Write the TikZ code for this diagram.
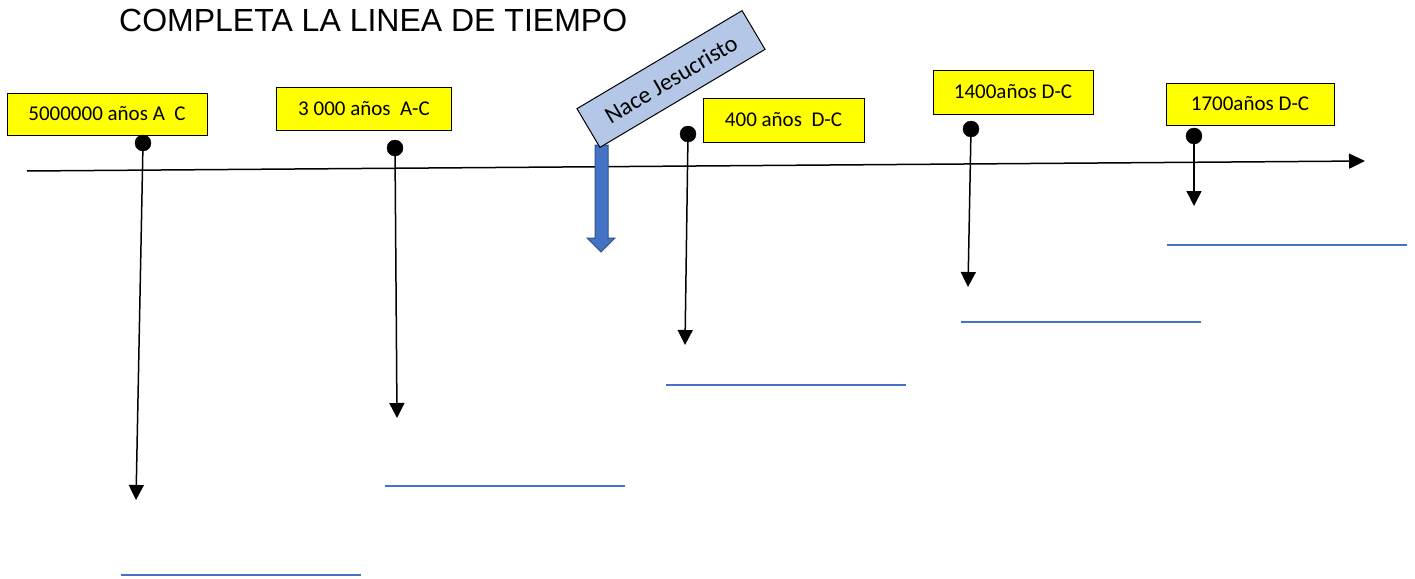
\documentclass[tikz,border=0pt]{standalone}
\usepackage{fontspec}
\setmainfont{Carlito}
\newfontfamily\titlefont{Liberation Sans}
\usetikzlibrary{arrows.meta}
\definecolor{boxyellow}{HTML}{FFFF00}
\definecolor{jesusblue}{HTML}{B4C7E7}
\definecolor{arrowblue}{HTML}{4472C4}
\definecolor{arrowedge}{HTML}{2F528F}
\definecolor{lineblue}{HTML}{4472C4}
\tikzset{
  datebox/.style={draw=black, line width=1pt, fill=boxyellow, inner sep=0pt,
    font=\fontsize{21}{25}\selectfont, anchor=center},
  dot/.style={circle, fill=black, draw=black, minimum size=16pt, inner sep=0pt},
  drop/.style={line width=1.5pt, -{Triangle[width=15pt,length=15pt]}},
  answer/.style={draw=lineblue, line width=1.5pt},
}
\begin{document}
\begin{tikzpicture}[x=1pt,y=-1pt]
\useasboundingbox (0,0) rectangle (1415,578);
% title
\node[anchor=base west, inner sep=0pt, font=\titlefont\fontsize{32}{38}\selectfont] (title) at (119,32) {COMPLETA LA LINEA DE TIEMPO};
% timeline
\coordinate (tl0) at (27,171);
\coordinate (tl1) at (1365,161);
\draw[line width=1.5pt, -{Triangle[width=15pt,length=16pt]}] (tl0) -- (tl1);
% boxes
\node[datebox, minimum width=200pt, minimum height=42pt] (b1) at (107,114) {5000000 años A\ \ C};
\node[datebox, minimum width=175pt, minimum height=43pt] (b2) at (364,109) {3 000 años\ \ A-C};
\node[datebox, minimum width=161pt, minimum height=44pt] (b3) at (783.5,120) {400 años\ \ D-C};
\node[datebox, minimum width=160pt, minimum height=44pt] (b4) at (1013,92) {1400años D-C};
\node[datebox, minimum width=168pt, minimum height=42pt] (b5) at (1250,104) {1700años D-C};
% dots and drop arrows
\node[dot] (d1) at (143,143) {};
\node[dot] (d2) at (395,148) {};
\node[dot] (d3) at (688,134) {};
\node[dot] (d4) at (971,129) {};
\node[dot] (d5) at (1194,136) {};
\coordinate (t1) at (136,500);
\coordinate (t2) at (397,418);
\coordinate (t3) at (685,345);
\coordinate (t4) at (968,287);
\coordinate (t5) at (1194,206);
\draw[drop] (d1.center) -- (t1);
\draw[drop] (d2.center) -- (t2);
\draw[drop] (d3.center) -- (t3);
\draw[drop] (d4.center) -- (t4);
\draw[drop] (d5.center) -- (t5);
% answer lines
\coordinate (a1l) at (121,575); \coordinate (a1r) at (361,575);
\coordinate (a2l) at (385,486); \coordinate (a2r) at (625,486);
\coordinate (a3l) at (666,385); \coordinate (a3r) at (906,385);
\coordinate (a4l) at (961,322); \coordinate (a4r) at (1201,322);
\coordinate (a5l) at (1167,245); \coordinate (a5r) at (1407,245);
\draw[answer] (a1l) -- (a1r);
\draw[answer] (a2l) -- (a2r);
\draw[answer] (a3l) -- (a3r);
\draw[answer] (a4l) -- (a4r);
\draw[answer] (a5l) -- (a5r);
% blue arrow
\draw[fill=arrowblue, draw=arrowedge, line width=1pt]
  (595,145) -- (608,145) -- (608,238) -- (615,238) -- (601,252) -- (587,238) -- (595,238) -- cycle;
% Nace Jesucristo
\node[draw=black, line width=1pt, fill=jesusblue, rotate=30.7, minimum width=192pt, minimum height=45pt, inner sep=0pt, font=\fontsize{24}{28}\selectfont] (jc) at (671,79) {Nace Jesucristo};
\end{tikzpicture}
\end{document}
